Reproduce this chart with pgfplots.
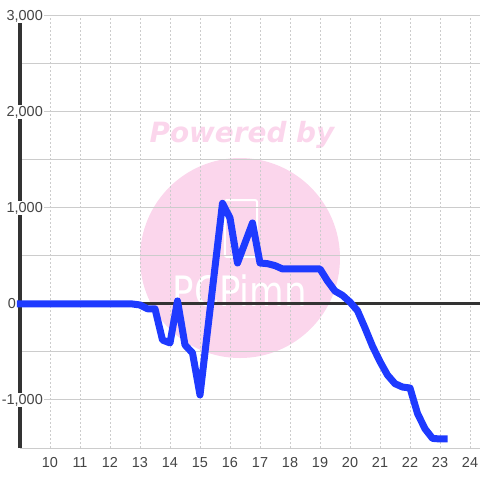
\documentclass[border=0pt]{standalone}
\usepackage{fontspec}
\setmainfont{Liberation Sans}
\newfontfamily\wmfont{DejaVu Sans}
\usepackage{pgfplots}
\pgfplotsset{compat=1.18}
\definecolor{lineblue}{RGB}{30,58,255}
\definecolor{gridgray}{RGB}{204,204,204}
\definecolor{axisdark}{RGB}{51,51,51}
\definecolor{labelgray}{RGB}{68,68,68}
\definecolor{wmpink}{RGB}{251,214,236}
\setlength{\fboxsep}{1bp}
\pgfplotstableread{
x y
8.9 0
12.75 0
13 -10
13.25 -50
13.5 -50
13.75 -375
14 -406
14.25 32
14.5 -427
14.75 -510
15 -948
15.75 1049
16 896
16.25 427
16.75 844
17 427
17.25 420
17.5 400
17.75 365
18 365
18.5 365
19 365
19.25 240
19.5 135
19.75 90
20 20
20.25 -70
20.5 -250
20.75 -440
21 -600
21.25 -740
21.5 -830
21.75 -865
22 -875
22.25 -1140
22.5 -1300
22.75 -1400
23 -1406
23.25 -1406
}\datatable
\begin{document}
\begin{tikzpicture}
\begin{axis}[
 set layers=standard,
 scale only axis, width=460bp, height=432bp,
 xmin=9, xmax=24.3333, ymin=-1500, ymax=3000,
 axis line style={draw=none},
 xtick={10,11,12,13,14,15,16,17,18,19,20,21,22,23,24},
 xticklabels={10,11,12,13,14,15,16,17,18,19,20,21,22,23,24},
 ytick={-1000,0,1000,2000,3000},
 yticklabels={{\colorbox{white}{-1,000}},{0\hspace*{28bp}},{\colorbox{white}{1,000}},{\colorbox{white}{2,000}},{\colorbox{white}{3,000}}},
 minor ytick={-1500,-500,500,1500,2500},
 xmajorgrids, ymajorgrids, yminorgrids,
 x grid style={gridgray, dash pattern=on 2bp off 2bp, line width=0.8bp},
 y grid style={gridgray, line width=1bp},
 major tick length=0pt, minor tick length=0pt,
 tick style={draw=none},
 tick label style={font=\fontsize{14.5}{17}\selectfont, text=labelgray},
 yticklabel style={anchor=east, xshift=24bp, inner sep=0bp},
 xticklabel style={anchor=north, yshift=-8bp, inner sep=1bp},
 clip=false,
]
\begin{pgfonlayer}{axis background}
\fill[wmpink] (axis cs:16.333,479) circle[radius=100bp];
\node[text=wmpink, font=\wmfont\bfseries\itshape\fontsize{28}{28}\selectfont] at (axis cs:16.4,1760) {Powered by};
\node[text=white, xscale=0.85, font=\wmfont\fontsize{42}{42}\selectfont] at (axis cs:16.333,135) {PCPimn};
\draw[white, line width=2bp, rounded corners=2bp] (axis cs:15.83,1083) rectangle (axis cs:16.9,490);
\end{pgfonlayer}
\begin{pgfonlayer}{axis lines}
\draw[axisdark, line width=3bp] (rel axis cs:0,0) -- (rel axis cs:0,1);
\end{pgfonlayer}
\draw[axisdark, line width=3bp] (axis cs:9,0) -- (axis cs:24.3333,0);
\addplot[lineblue, line width=7bp, line join=round, no marks] table[x=x,y=y] {\datatable};
\end{axis}
\pgfresetboundingbox
\path ([shift={(-20bp,-32bp)}]current axis.south west) rectangle ([shift={(0bp,16bp)}]current axis.north east);
\end{tikzpicture}
\end{document}
